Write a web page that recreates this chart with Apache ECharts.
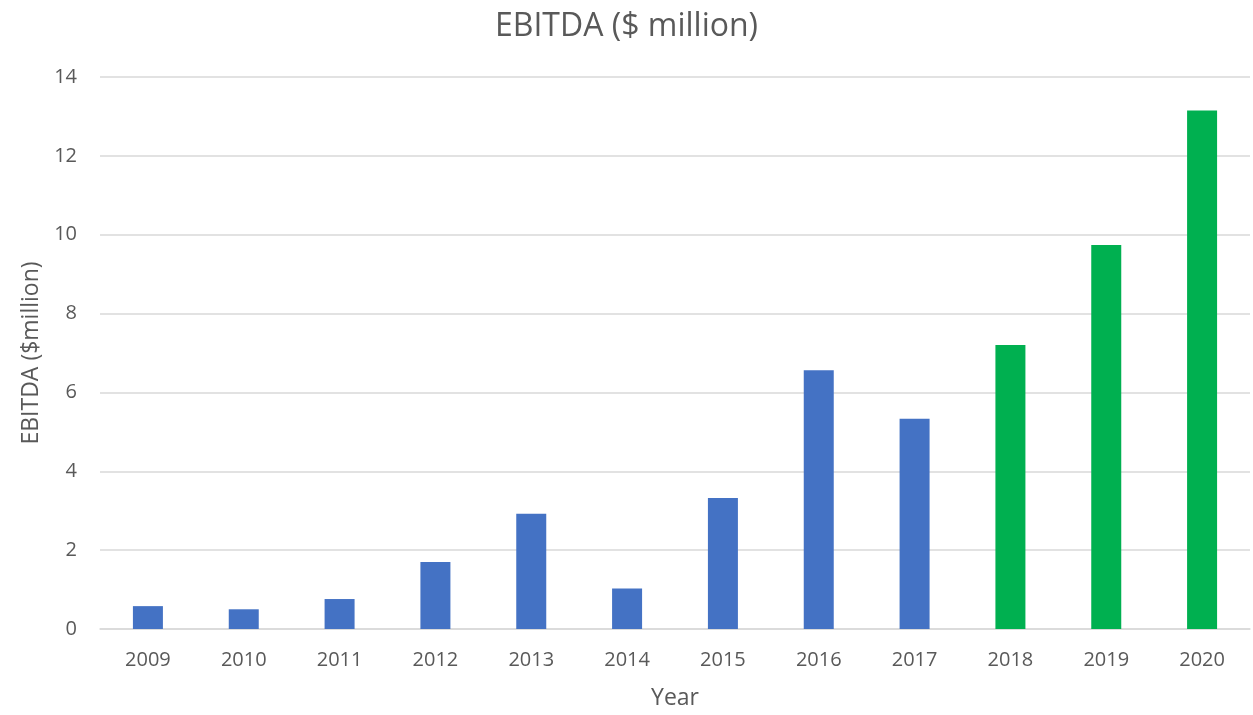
<!DOCTYPE html>
<html>
<head>
<meta charset="utf-8">
<script src="https://cdn.jsdelivr.net/npm/echarts@6/dist/echarts.min.js"></script>
<style>
html,body{margin:0;padding:0;background:#fff;}
#chart{width:1253px;height:715px;}
</style>
</head>
<body>
<div id="chart"></div>
<script>
const years = ['2009','2010','2011','2012','2013','2014','2015','2016','2017','2018','2019','2020'];
const ebitda = [0.58, 0.50, 0.76, 1.70, 2.92, 1.03, 3.32, 6.56, 5.33, 7.20, 9.74, 13.15];
const kind = ['actual','actual','actual','actual','actual','actual','actual','actual','actual','forecast','forecast','forecast'];
const yTicks = [0, 2, 4, 6, 8, 10, 12, 14];

const FONT = '"Open Sans", sans-serif';
const TXT = '#595959';
const colorFor = { actual: '#4472C4', forecast: '#00B050' };

const chart = echarts.init(document.getElementById('chart'));
chart.setOption({
  animation: false,
  backgroundColor: '#ffffff',
  title: {
    text: 'EBITDA ($ million)',
    left: 'center',
    top: 6,
    textStyle: { fontFamily: FONT, fontSize: 32, fontWeight: 'normal', color: TXT }
  },
  grid: { left: 100, right: 3, top: 77, bottom: 81, containLabel: false },
  xAxis: {
    type: 'category',
    data: years,
    name: 'Year',
    nameLocation: 'middle',
    nameGap: 58,
    nameTextStyle: { fontFamily: FONT, fontSize: 23, color: TXT },
    axisLine: { show: true, lineStyle: { color: '#D9D9D9', width: 1.5 } },
    axisTick: { show: false },
    axisLabel: { fontFamily: FONT, fontSize: 20, color: TXT, margin: 21 }
  },
  yAxis: {
    type: 'value',
    min: yTicks[0],
    max: yTicks[yTicks.length - 1],
    interval: 2,
    name: 'EBITDA ($million)',
    nameLocation: 'middle',
    nameGap: 52,
    nameTextStyle: { fontFamily: FONT, fontSize: 23, color: TXT },
    axisLine: { show: false },
    axisTick: { show: false },
    splitLine: { lineStyle: { color: '#D9D9D9', width: 1.5 } },
    axisLabel: { fontFamily: FONT, fontSize: 20, color: TXT, margin: 23 }
  },
  series: [{
    type: 'bar',
    data: ebitda,
    barWidth: 30,
    itemStyle: {
      color: p => colorFor[kind[p.dataIndex]]
    }
  }]
});
</script>
</body>
</html>
